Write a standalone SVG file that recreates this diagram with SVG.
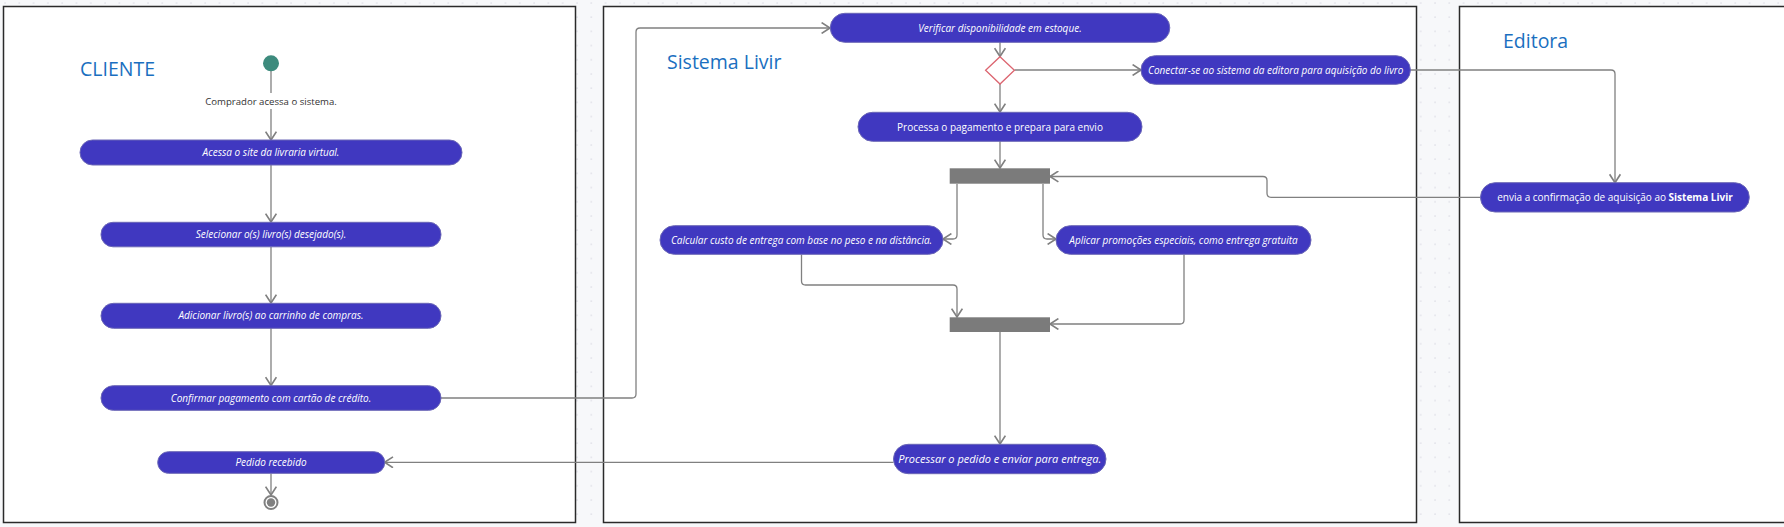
<svg xmlns="http://www.w3.org/2000/svg" width="1784" height="527" viewBox="0 0 1784 527">
<defs>
<pattern id="dots" x="3" y="1" width="14.3" height="14.2" patternUnits="userSpaceOnUse">
<circle cx="2" cy="2" r="0.8" fill="#dcdce4"/>
</pattern>
<marker id="arr" markerUnits="userSpaceOnUse" markerWidth="12" markerHeight="12" refX="8" refY="5" viewBox="0 0 10 10" orient="auto">
<path d="M1,0.5 L8,5 L1,9.5" fill="none" stroke="#808080" stroke-width="1.4"/>
</marker>
<style>
.lane{fill:#ffffff;stroke:#2a2a2a;stroke-width:1.5}
.title{font-family:"Open Sans","Noto Sans",sans-serif;font-size:19.5px;fill:#1a6fc0}
.act{fill:#4038c0;stroke:#6a66b6;stroke-width:1}
.t{font-family:"Open Sans","Noto Sans",sans-serif;font-size:10px;fill:#ffffff;text-anchor:middle}
.i{font-style:italic}
.c{fill:none;stroke:#808080;stroke-width:1.3}
.bar{fill:#7b7b7b}
.lbl{font-family:"Open Sans","Noto Sans",sans-serif;font-size:9.6px;fill:#333333;text-anchor:middle}
</style>
</defs>
<rect x="0" y="0" width="1784" height="527" fill="#f7f8fa"/>
<rect x="0" y="0" width="1784" height="527" fill="url(#dots)"/>

<g id="lane-cliente">
<rect class="lane" x="3.5" y="6.5" width="572" height="516"/>
<text class="title" x="80" y="76">CLIENTE</text>
</g>
<g id="lane-sistema">
<rect class="lane" x="603.5" y="6.5" width="813" height="516"/>
<text class="title" x="667" y="69">Sistema Livir</text>
</g>
<g id="lane-editora">
<rect class="lane" x="1459.5" y="6.5" width="330" height="516"/>
<text class="title" x="1503" y="48">Editora</text>
</g>

<g id="connectors">
<path class="c" d="M271,71 V140" marker-end="url(#arr)"/>
<path class="c" d="M271,165 V222" marker-end="url(#arr)"/>
<path class="c" d="M271,247 V303" marker-end="url(#arr)"/>
<path class="c" d="M271,328 V385.5" marker-end="url(#arr)"/>
<path class="c" d="M441,398 H632 Q636,398 636,394 V32 Q636,28 640,28 H830" marker-end="url(#arr)"/>
<path class="c" d="M1000,42 V56.5" marker-end="url(#arr)"/>
<path class="c" d="M1014.5,70 H1141" marker-end="url(#arr)"/>
<path class="c" d="M1000,84 V112" marker-end="url(#arr)"/>
<path class="c" d="M1000,141 V168" marker-end="url(#arr)"/>
<path class="c" d="M957,184 V235 Q957,239 953,239 H943" marker-end="url(#arr)"/>
<path class="c" d="M1043,184 V235 Q1043,239 1047,239 H1056" marker-end="url(#arr)"/>
<path class="c" d="M801.5,254.5 V281 Q801.5,285 805.5,285 H953 Q957,285 957,289 V317" marker-end="url(#arr)"/>
<path class="c" d="M1184,254.5 V320 Q1184,324 1180,324 H1050" marker-end="url(#arr)"/>
<path class="c" d="M1000,332 V444" marker-end="url(#arr)"/>
<path class="c" d="M893.5,462.3 H384.6" marker-end="url(#arr)"/>
<path class="c" d="M271,473.5 V495" marker-end="url(#arr)"/>
<path class="c" d="M1410,70 H1611 Q1615,70 1615,74 V182.7" marker-end="url(#arr)"/>
<path class="c" d="M1480.5,197.3 H1271 Q1267,197.3 1267,193.3 V180.5 Q1267,176.5 1263,176.5 H1050" marker-end="url(#arr)"/>
</g>

<g id="start">
<circle cx="271" cy="63.3" r="8" fill="#3d8b7d"/>
</g>
<g id="label-comprador">
<rect x="203" y="93" width="136" height="16" fill="#ffffff"/>
<text class="lbl" x="271" y="105">Comprador acessa o sistema.</text>
</g>

<g id="n-acessa">
<rect class="act" x="80" y="140" width="382" height="25" rx="12.5"/>
<text class="t i" x="271" y="156">Acessa o site da livraria virtual.</text>
</g>
<g id="n-selecionar">
<rect class="act" x="101" y="222.3" width="340" height="24.5" rx="12"/>
<text class="t i" x="271" y="238">Selecionar o(s) livro(s) desejado(s).</text>
</g>
<g id="n-adicionar">
<rect class="act" x="101" y="303.3" width="340" height="25" rx="12.5"/>
<text class="t i" x="271" y="319.3">Adicionar livro(s) ao carrinho de compras.</text>
</g>
<g id="n-confirmar">
<rect class="act" x="101" y="385.7" width="340" height="24.6" rx="12.3"/>
<text class="t i" x="271" y="401.5">Confirmar pagamento com cartão de crédito.</text>
</g>
<g id="n-pedido">
<rect class="act" x="157.7" y="451.7" width="227" height="21.6" rx="10.8"/>
<text class="t i" x="271" y="466">Pedido recebido</text>
</g>
<g id="end">
<circle cx="271" cy="502.5" r="6.5" fill="#ffffff" stroke="#808080" stroke-width="2"/>
<circle cx="271" cy="502.5" r="4.2" fill="#808080"/>
</g>

<g id="n-verificar">
<rect class="act" x="830.3" y="13.3" width="339.5" height="29" rx="14.5"/>
<text class="t i" x="1000" y="31.5">Verificar disponibilidade em estoque.</text>
</g>
<g id="decision">
<path d="M1000,56.7 L1014.4,70.3 L1000,84 L985.6,70.3 Z" fill="#ffffff" stroke="#dc6570" stroke-width="1.3"/>
</g>
<g id="n-conectar">
<rect class="act" x="1141" y="55.7" width="269.4" height="28.6" rx="14.3"/>
<text class="t i" x="1275.7" y="73.5">Conectar-se ao sistema da editora para aquisição do livro</text>
</g>
<g id="n-processa">
<rect class="act" x="858" y="112.3" width="284" height="29" rx="14.5"/>
<text class="t" x="1000" y="130.5">Processa o pagamento e prepara para envio</text>
</g>
<g id="fork">
<rect class="bar" x="949.7" y="168.3" width="100.3" height="15.4"/>
</g>
<g id="n-calcular">
<rect class="act" x="660" y="225.7" width="283" height="28.6" rx="14.3"/>
<text class="t i" x="801.5" y="243.5">Calcular custo de entrega com base no peso e na distância.</text>
</g>
<g id="n-aplicar">
<rect class="act" x="1056" y="225.7" width="255" height="28.6" rx="14.3"/>
<text class="t i" x="1183.5" y="243.5">Aplicar promoções especiais, como entrega gratuita</text>
</g>
<g id="join">
<rect class="bar" x="949.7" y="317.3" width="100.3" height="14.7"/>
</g>
<g id="n-processar">
<rect class="act" x="893.5" y="444.3" width="212.5" height="29.4" rx="14.7"/>
<text class="t i" x="999.7" y="462.8" style="font-size:11px">Processar o pedido e enviar para entrega.</text>
</g>

<g id="n-envia">
<rect class="act" x="1480.5" y="182.7" width="268.8" height="29.3" rx="14.6"/>
<text class="t" x="1615" y="201">envia a confirmação de aquisição ao <tspan font-weight="bold">Sistema Livir</tspan></text>
</g>
</svg>
